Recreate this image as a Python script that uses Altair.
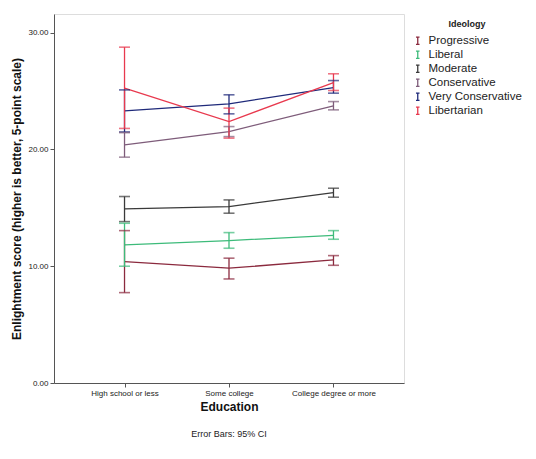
import altair as alt
import pandas as pd

education = ["High school or less", "Some college", "College degree or more"]
ideologies = ["Progressive", "Liberal", "Moderate", "Conservative", "Very Conservative", "Libertarian"]
colors = ["#8B2A3E", "#3DBB7A", "#3A3A3A", "#7E5C7A", "#1F2A7A", "#E8394E"]

means = {
    "Progressive":       [10.40, 9.83, 10.54],
    "Liberal":           [11.83, 12.20, 12.65],
    "Moderate":          [14.91, 15.11, 16.31],
    "Conservative":      [20.39, 21.53, 23.74],
    "Very Conservative": [23.31, 23.91, 25.30],
    "Libertarian":       [25.25, 22.39, 25.73],
}
lower = {
    "Progressive":       [7.74, 8.91, 10.08],
    "Liberal":           [10.00, 11.54, 12.31],
    "Moderate":          [13.82, 14.54, 15.91],
    "Conservative":      [19.34, 21.10, 23.39],
    "Very Conservative": [21.50, 23.05, 24.82],
    "Libertarian":       [21.80, 20.97, 25.05],
}
upper = {
    "Progressive":       [13.05, 10.69, 10.91],
    "Liberal":           [13.68, 12.88, 13.05],
    "Moderate":          [15.97, 15.68, 16.68],
    "Conservative":      [21.44, 21.96, 24.10],
    "Very Conservative": [25.10, 24.68, 25.90],
    "Libertarian":       [28.76, 23.54, 26.48],
}

rows = []
for ideo in ideologies:
    for i, ed in enumerate(education):
        rows.append({"Education": ed, "Ideology": ideo, "mean": means[ideo][i],
                     "lo": lower[ideo][i], "hi": upper[ideo][i]})
df = pd.DataFrame(rows)

xenc = alt.X("Education:N", sort=education,
             scale=alt.Scale(type="point", padding=0.675),
             axis=alt.Axis(title="Education", labelAngle=0, labelFontSize=8,
                           labelColor="#222", titleFontSize=12, titleFontWeight="bold",
                           titleColor="#111", titlePadding=4, domainColor="#555",
                           tickColor="#555", tickSize=4, labelPadding=2, grid=False))
ibeam = "M-0.5,-1H0.5M0,-1V1M-0.5,1H0.5"
color = alt.Color("Ideology:N", sort=ideologies,
                  scale=alt.Scale(domain=ideologies, range=colors),
                  legend=alt.Legend(title="Ideology", orient="none", legendX=358, legendY=6,
                                    titleFontSize=9, titleFontWeight="bold", titleColor="#222",
                                    titleAnchor="middle", titlePadding=6,
                                    labelFontSize=11.5, labelColor="#222",
                                    symbolType=ibeam, symbolSize=50, symbolStrokeWidth=1.3,
                                    symbolFillColor="transparent", rowPadding=1,
                                    labelOffset=5))
yscale = alt.Scale(domain=[0, 31.6], nice=False)
yaxis = alt.Axis(title="Enlightment score (higher is better, 5-point scale)",
                 values=[0, 10, 20, 30], format=".2f", labelFontSize=8, labelColor="#222",
                 titleFontSize=12, titleFontWeight="bold", titleColor="#111",
                 titlePadding=4, domainColor="#555", tickColor="#555", tickSize=4,
                 labelPadding=2, grid=False)

base = alt.Chart(df)
lines = base.mark_line(strokeWidth=1.3).encode(
    x=xenc, y=alt.Y("mean:Q", scale=yscale, axis=yaxis), color=color)
rules = base.mark_rule(strokeWidth=1.3).encode(
    x=alt.X("Education:N", sort=education), y="lo:Q", y2="hi:Q",
    color=alt.Color("Ideology:N", sort=ideologies, legend=None))
cap_lo = base.mark_tick(size=11, thickness=1.6).encode(
    x=alt.X("Education:N", sort=education), y="lo:Q",
    color=alt.Color("Ideology:N", sort=ideologies, legend=None))
cap_hi = base.mark_tick(size=11, thickness=1.6).encode(
    x=alt.X("Education:N", sort=education), y="hi:Q",
    color=alt.Color("Ideology:N", sort=ideologies, legend=None))

chart = alt.layer(lines, rules, cap_lo, cap_hi).properties(
    width=350, height=369,
    autosize=alt.AutoSizeParams(type="none"),
    padding={"left": 54, "top": 14, "right": 132, "bottom": 76},
    title=alt.TitleParams("Error Bars: 95% CI", orient="bottom", anchor="middle",
                          fontSize=9, fontWeight="normal", color="#222", offset=18),
    background="white",
).configure_view(fill="#F0F0F0", stroke="#555", strokeWidth=1.2
).configure(font="Liberation Sans")

chart.save("out.html", embed_options={"renderer": "svg", "actions": False})
